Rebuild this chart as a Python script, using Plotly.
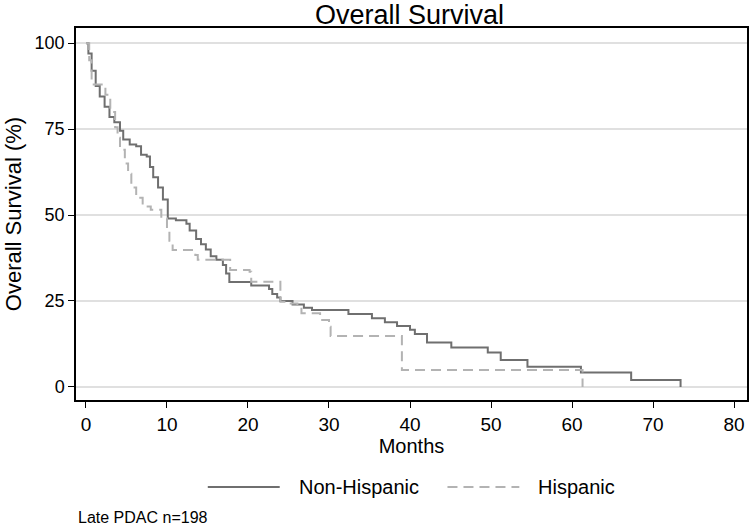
import plotly.graph_objects as go

# Kaplan-Meier step data (time in months, survival %)
nonhisp_time = [0, 0.3, 0.7, 1.2, 1.7, 2.3, 2.9, 3.5, 4.2, 4.6, 5.4, 6.2, 6.8, 7.5, 7.9, 8.3,
                8.9, 9.5, 10.1, 11.1, 12.4, 12.8, 13.6, 14.2, 14.8, 15.4, 16.1, 16.9, 17.3,
                17.7, 20.4, 22.6, 23.0, 23.6, 24.0, 25.5, 26.9, 27.9, 32.4, 35.3, 36.9, 38.4,
                40.0, 40.6, 42.1, 45.1, 49.6, 51.2, 54.5, 61.1, 67.3, 73.4]
nonhisp_surv = [100, 97, 92, 87.5, 84.5, 81.5, 78.5, 77, 74.5, 72, 70.5, 70, 67.5, 67, 64, 61,
                58, 54.5, 49, 48.5, 47.5, 45.5, 43, 41.5, 40, 38, 37, 35.5, 33,
                30.5, 29.5, 28.5, 27, 26, 25, 24, 23, 22.4, 21.2, 20, 18.8, 17.7,
                16.6, 15.4, 12.9, 11.5, 10, 7.8, 5.9, 4.2, 2.0, 0]

hisp_time = [0, 0.4, 0.7, 2.4, 3.0, 3.6, 3.9, 4.2, 4.8, 5.2, 5.6, 6.2, 7.0, 8.0, 9.3, 10.0,
             10.3, 10.7, 13.5, 13.8, 17.8, 20.2, 20.4, 24.0, 24.9, 26.1, 26.6, 28.9, 30.0,
             30.2, 39.0, 61.3]
hisp_surv = [100, 95, 88, 85, 80, 75.5, 72.5, 69, 65, 62, 58, 55, 52.5, 51.5, 49, 46,
             42.5, 39.8, 38.4, 37, 34, 33.5, 30.6, 24.8, 24.3, 23.3, 21.4, 19.5, 17.5,
             14.8, 4.9, 0]

series_names = ["Non-Hispanic", "Hispanic"]
x_ticks = [0, 10, 20, 30, 40, 50, 60, 70, 80]
y_ticks = [0, 25, 50, 75, 100]

FONT = "Liberation Sans, Arial, sans-serif"
C_SOLID = "#6f6f6f"
C_DASH = "#b3b3b3"
DASH = "10px,6px"

fig = go.Figure()
fig.add_trace(go.Scatter(x=nonhisp_time, y=nonhisp_surv, mode="lines", line_shape="hv",
                         name=series_names[0], line=dict(color=C_SOLID, width=2)))
fig.add_trace(go.Scatter(x=hisp_time, y=hisp_surv, mode="lines", line_shape="hv",
                         name=series_names[1], line=dict(color=C_DASH, width=2, dash=DASH)))

fig.update_layout(
    width=750, height=525,
    margin=dict(l=76, r=1, t=28, b=125),
    paper_bgcolor="white", plot_bgcolor="white",
    font=dict(family=FONT, color="#000000", size=18),
    title=dict(text="Overall Survival", xref="paper", x=0.497, xanchor="center",
               y=0.973, yanchor="middle", font=dict(size=27, family=FONT)),
    showlegend=False,
    xaxis=dict(range=[-1.23, 81.6], tickvals=x_ticks, ticks="outside", ticklen=6,
               tickcolor="#000", tickwidth=1.2, showgrid=False, zeroline=False,
               showline=True, linecolor="#000", linewidth=1.5, mirror=True,
               tickfont=dict(size=19),
               title=dict(text="Months", font=dict(size=20), standoff=0)),
    yaxis=dict(range=[-3.8, 104.4], tickvals=y_ticks, ticks="outside", ticklen=6,
               tickcolor="#000", tickwidth=1.2, showgrid=True, gridcolor="#e0e0e0",
               gridwidth=1.5, zeroline=False,
               showline=True, linecolor="#000", linewidth=1.5, mirror=True,
               tickfont=dict(size=18),
               title=dict(text="Overall Survival (%)", font=dict(size=22), standoff=7)),
)

# legend drawn manually to match the reference's long line samples
ly = -0.234
fig.add_shape(type="line", xref="paper", yref="paper", x0=0.1964, x1=0.3036, y0=ly, y1=ly,
              line=dict(color=C_SOLID, width=2))
fig.add_shape(type="line", xref="paper", yref="paper", x0=0.5536, x1=0.6607, y0=ly, y1=ly,
              line=dict(color=C_DASH, width=2, dash=DASH))
fig.add_annotation(text=series_names[0], xref="paper", yref="paper", x=0.3289, y=ly,
                   xanchor="left", yanchor="middle", showarrow=False,
                   font=dict(size=20, family=FONT))
fig.add_annotation(text=series_names[1], xref="paper", yref="paper", x=0.686, y=ly,
                   xanchor="left", yanchor="middle", showarrow=False,
                   font=dict(size=20, family=FONT))

fig.add_annotation(text="Late PDAC n=198", xref="paper", yref="paper", x=0.0, y=-0.315,
                   xanchor="left", yanchor="middle", showarrow=False,
                   font=dict(size=16, family=FONT))

fig.write_html("out.html", config={"displayModeBar": False},
               post_script="document.body.style.margin='0';")
